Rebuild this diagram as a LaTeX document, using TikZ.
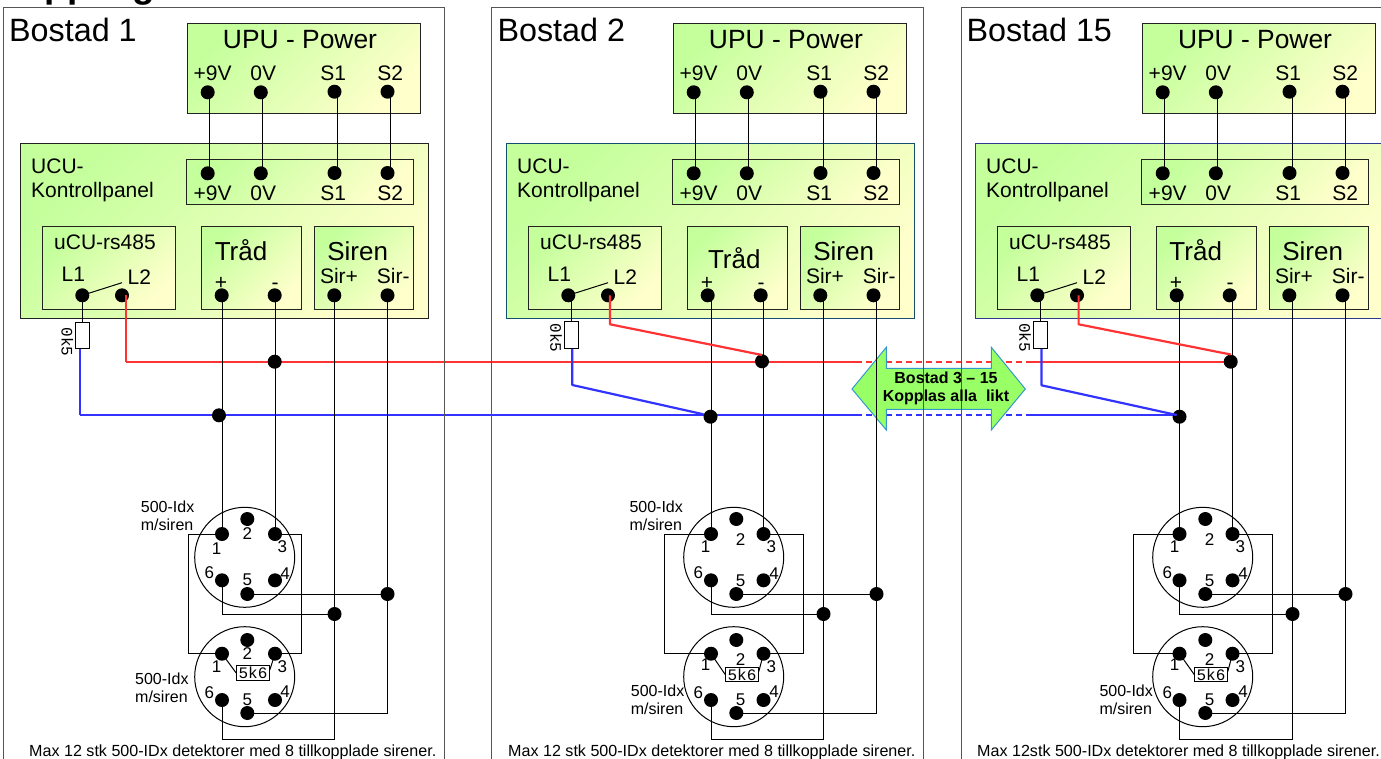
\documentclass[tikz,border=0pt]{standalone}
\usepackage{fontspec}
\setmainfont{Liberation Sans}
\newfontfamily\lmono{Liberation Mono}
\pgfdeclarelayer{bg}
\pgfsetlayers{bg,main}
\definecolor{gA}{HTML}{C4FF9C}
\definecolor{gB}{HTML}{FFFFCC}
\definecolor{redw}{HTML}{FF3333}
\definecolor{bluew}{HTML}{3333FF}
\definecolor{arrfill}{HTML}{99FF66}
\definecolor{arrline}{HTML}{3399CC}
\definecolor{frameC}{HTML}{555555}
\definecolor{navyA}{HTML}{14506E}
\definecolor{navyB}{HTML}{2E3A90}
\definecolor{boxC}{HTML}{222222}
\newcommand\fsz[1]{\fontsize{#1}{#1}\selectfont}
\tikzset{
  pad/.style={circle,fill=black,draw=none,minimum size=14pt,inner sep=0pt},
  wire/.style={draw=black,line width=1pt},
  rw/.style={draw=redw,line width=2.2pt,line join=round},
  bw/.style={draw=bluew,line width=2.2pt,line join=round},
  grad/.style={draw=#1,line width=1pt,top color=gA,bottom color=gB,shading angle=45},
  framest/.style={draw=frameC,line width=1pt},
  lbl/.style={anchor=base,inner sep=0pt,text=black},
  lbll/.style={anchor=base west,inner sep=0pt,text=black},
  num/.style={inner sep=0pt,text=black,font=\fsz{17}},
  ring/.style={circle,draw=black,line width=1pt,minimum size=100pt,inner sep=0pt},
  resv/.style={rectangle,draw=black,line width=1pt,fill=white,minimum width=13.6pt,minimum height=26.6pt,inner sep=0pt},
  resh/.style={rectangle,draw=black,line width=1pt,fill=white,minimum width=32.6pt,minimum height=14.5pt,inner sep=0pt,font=\lmono\fsz{16}},
}
% #1 prefix, #2 x offset, #3 title, #4 outer border colour
\newcommand\UnitUpper[4]{
  \draw[grad=boxC] (#2+187.7,23) rectangle (#2+420.7,113.5);
  \draw[grad=#4] (#2+20,143.7) rectangle (#2+428.3,318);
  \draw[grad=boxC] (#2+186,159) rectangle (#2+413.3,204.3);
  \draw[grad=boxC] (#2+42.3,226.7) rectangle (#2+175.3,309.3);
  \draw[grad=boxC] (#2+201.3,226.7) rectangle (#2+301.3,309.3);
  \draw[grad=boxC] (#2+314.3,226.7) rectangle (#2+413.7,309.3);
  \node[lbll,font=\fsz{32.3}] (#1title) at (#2+\TitX,41.7) {#3};
  \node[lbl,font=\fsz{26.4}] (#1upu) at (#2+300,48.7) {UPU - Power};
  \node[lbll,font=\fsz{21}] (#1ucuA) at (#2+31,173.3) {UCU-};
  \node[lbll,font=\fsz{21}] (#1ucuB) at (#2+31,197.3) {Kontrollpanel};
  \node[lbl,font=\fsz{21}] (#1rs) at (#2+105,249) {uCU-rs485};
  \node[lbl,font=\fsz{26}] (#1trad) at (#2+\TrX,\TrY) {Tråd};
  \node[lbl,font=\fsz{26}] (#1siren) at (#2+357.7,260) {Siren};
  \node[lbl,font=\fsz{21}] (#1tA) at (#2+212.7,80.7) {+9V};
  \node[lbl,font=\fsz{21}] (#1tB) at (#2+263.3,80.7) {0V};
  \node[lbl,font=\fsz{21}] (#1tC) at (#2+333.3,80.7) {S1};
  \node[lbl,font=\fsz{21}] (#1tD) at (#2+390.3,80.7) {S2};
  \node[lbl,font=\fsz{21}] (#1uA) at (#2+212.7,200) {+9V};
  \node[lbl,font=\fsz{21}] (#1uB) at (#2+263.3,200) {0V};
  \node[lbl,font=\fsz{21}] (#1uC) at (#2+333.3,200) {S1};
  \node[lbl,font=\fsz{21}] (#1uD) at (#2+390.3,200) {S2};
  \node[lbl,font=\fsz{21}] (#1tL1) at (#2+73.3,281.7) {L1};
  \node[lbl,font=\fsz{21}] (#1tL2) at (#2+139.3,284) {L2};
  \node[lbl,font=\fsz{21}] (#1tp) at (#2+221,289) {+};
  \node[lbl,font=\fsz{21}] (#1tm) at (#2+275,289) {-};
  \node[lbl,font=\fsz{21}] (#1tsp) at (#2+339,283.5) {Sir+};
  \node[lbl,font=\fsz{21}] (#1tsm) at (#2+393.3,283.5) {Sir-};
  \node[pad] (#1a) at (#2+207.7,92.3) {};
  \node[pad] (#1b) at (#2+260.8,92.3) {};
  \node[pad] (#1c) at (#2+334.5,91.7) {};
  \node[pad] (#1d) at (#2+387.5,91.7) {};
  \node[pad] (#1e) at (#2+207.7,173.3) {};
  \node[pad] (#1f) at (#2+260.8,173.3) {};
  \node[pad] (#1g) at (#2+334.5,173) {};
  \node[pad] (#1h) at (#2+387.5,173) {};
  \draw[wire] ([xshift=1.3pt]#1a.center) -- ([xshift=1.3pt]#1e.center);
  \draw[wire] ([xshift=1.2pt]#1b.center) -- ([xshift=1.2pt]#1f.center);
  \draw[wire] ([xshift=3pt]#1c.center) -- ([xshift=3pt]#1g.center);
  \draw[wire] ([xshift=3pt]#1d.center) -- ([xshift=3pt]#1h.center);
  \node[pad] (#1L1) at (#2+82.3,295.3) {};
  \node[pad] (#1L2) at (#2+122,295.3) {};
  \node[pad] (#1plus) at (#2+221.7,295.3) {};
  \node[pad] (#1minus) at (#2+274.7,295.3) {};
  \node[pad] (#1sp) at (#2+334.3,295.3) {};
  \node[pad] (#1sm) at (#2+387.5,295.3) {};
  \coordinate (#1tick) at (#2+122,282.7);
  \draw[wire] (#1L1.center) -- (#1tick);
}
% #1 prefix, #2 x offset
\newcommand\UnitLower[2]{
  \node[ring] (#1ringA) at (#2+244.7,557.3) {};
  \node[ring] (#1ringB) at (#2+244.7,676.7) {};
  \node[pad] (#1p1) at (\PA,534) {};
  \node[pad] (#1p2) at (#2+247.3,519) {};
  \node[pad] (#1p3) at (\PB,534) {};
  \node[pad] (#1p4) at (\PB,580.3) {};
  \node[pad] (#1p5) at (#2+247.3,594) {};
  \node[pad] (#1p6) at (\PA,580.3) {};
  \node[pad] (#1q1) at (\PA,653.7) {};
  \node[pad] (#1q2) at (#2+247.3,640) {};
  \node[pad] (#1q3) at (\PB,653.7) {};
  \node[pad] (#1q4) at (\PB,700) {};
  \node[pad] (#1q5) at (#2+247.3,713) {};
  \node[pad] (#1q6) at (\PA,700) {};
  \node[pad] (#1j1) at (#2+334.5,614) {};
  \node[pad] (#1j2) at (#2+387.5,594) {};
  \node[resh] (#1rr) at (#2+253,\RBy) {5k6};
  \draw[wire] (#1p1 |- #1plus) -- (#1p1.center);
  \draw[wire] (#1p3 |- #1minus) -- (#1p3.center);
  \draw[wire] (#1j1 |- #1sp) -- (#1j1.center);
  \draw[wire] (#1j2 |- #1sm) -- (#1j2.center);
  \coordinate (#1lL) at (\LoopL,600);
  \coordinate (#1lR) at (\LoopR,600);
  \coordinate (#1bot) at (#2+334.5,739.7);
  \draw[wire] (#1p1.center) -- (#1p1 -| #1lL) -- (#1q1 -| #1lL) -- (#1q1.center);
  \draw[wire] (#1p3.center) -- (#1p3 -| #1lR) -- (#1q3 -| #1lR) -- (#1q3.center);
  \draw[wire] (#1p6.center) |- (#1j1.center);
  \draw[wire] (#1p5.center) -- (#1j2.center);
  \draw[wire] (#1q6.center) |- (#1bot) -- (#1j1.center);
  \draw[wire] (#1q5.center) -| (#1j2.center);
  \draw[wire] (#1q1.center) -- (#1rr.west);
  \draw[wire] (#1q3.center) -- ([yshift=3pt]#1rr.east);
  \node[num] (#1nA) at (#2+216.7,\OneY) {1};
  \node[num] (#1nB) at (#2+247.3+\TwoDx,\TwoY) {2};
  \node[num] (#1nC) at (#2+282.3,546.7) {3};
  \node[num] (#1nD) at (#2+285,574) {4};
  \node[num] (#1nE) at (#2+247.3+\TwoDx,\FiveY) {5};
  \node[num] (#1nF) at (#2+209.3,572.7) {6};
  \node[num] (#1mA) at (#2+216.7,\OneYb) {1};
  \node[num] (#1mB) at (#2+247.3+\TwoDx,\TwoYb) {2};
  \node[num] (#1mC) at (#2+282.3,666.5) {3};
  \node[num] (#1mD) at (#2+285,692) {4};
  \node[num] (#1mE) at (#2+247.3+\TwoDx,699.3) {5};
  \node[num] (#1mF) at (#2+209.3,692.5) {6};
}
% #1 prefix, #2 label x, #3 first baseline
\newcommand\IdxLabel[3]{
  \node[lbll,font=\fsz{16}] (#1A) at (#2,#3) {500-Idx};
  \node[lbll,font=\fsz{16}] (#1B) at (#2,#3+18) {m/siren};
}
\begin{document}
\begin{tikzpicture}[x=1pt,y=-1pt]
\useasboundingbox (0,0) rectangle (1381,758);
\begin{pgfonlayer}{bg}
  \fill[white] (0,0) rectangle (1381,758);
\end{pgfonlayer}
\node[anchor=base west,inner sep=0pt,font=\fsz{37}\bfseries] (head) at (-5,-3) {Koppling};
% frames
\draw[framest] (3,7.6) rectangle (444,800);
\draw[framest] (491.7,7.6) rectangle (923,800);
\draw[framest] (961,7.6) rectangle (1500,800);
% unit 1
\def\TitX{9}\def\TrX{241}\def\TrY{260}
\UnitUpper{u}{0}{Bostad 1}{boxC}
\def\PA{222}\def\PB{275}\def\LoopL{188.7}\def\LoopR{301.3}\def\RBy{673}
\def\TwoDx{0}\def\TwoY{533.3}\def\TwoYb{654}\def\FiveY{579.3}\def\OneY{548.3}\def\OneYb{666.7}
\UnitLower{u}{0}
% unit 2
\def\TitX{11.3}\def\TrX{248.3}\def\TrY{268.3}
\UnitUpper{v}{486}{Bostad 2}{navyA}
\def\PA{711}\def\PB{763.5}\def\LoopL{664.3}\def\LoopR{803.7}\def\RBy{674.5}
\def\TwoDx{4.2}\def\TwoY{539.3}\def\TwoYb{659.3}\def\FiveY{580.7}\def\OneY{546.7}\def\OneYb{665}
\UnitLower{v}{489}
% unit 3
\def\TitX{11.3}\def\TrX{240.7}\def\TrY{260}
\UnitUpper{w}{955}{Bostad 15}{navyB}
\def\PA{1179.5}\def\PB{1232.5}\def\LoopL{1133}\def\LoopR{1272.3}
\UnitLower{w}{958}
% bus junctions
\node[pad] (uJr) at (274.7,361.7) {};
\node[pad] (uJb) at (219,415.3) {};
\node[pad] (vJr) at (762,361.3) {};
\node[pad] (vJb) at (710.5,416.7) {};
\node[pad] (wJr) at (1230.7,361.7) {};
\node[pad] (wJb) at (1179.5,416.7) {};
% series resistors
\node[resv] (uR) at (82.5,335.3) {};
\node[resv] (vR) at (571.5,335) {};
\node[resv] (wR) at (1040.5,335) {};
\node[inner sep=0pt,rotate=-90,font=\lmono\fsz{16},text=black] (uRt) at (67.3,342) {0k5};
\node[inner sep=0pt,rotate=-90,font=\lmono\fsz{16},text=black] (vRt) at (556,338) {0k5};
\node[inner sep=0pt,rotate=-90,font=\lmono\fsz{16},text=black] (wRt) at (1025,337.5) {0k5};
\draw[wire] ([xshift=0.2pt]uL1.center) -- (uR.north);
\draw[wire] ([xshift=3.2pt]vL1.center) -- ([xshift=3.2pt]vL1.center |- vR.north);
\draw[wire] ([xshift=3.2pt]wL1.center) -- ([xshift=3.2pt]wL1.center |- wR.north);
% bus coordinates
\coordinate (redK) at (126,362.3);
\coordinate (bluK) at (80.3,415.2);
\coordinate (vRk) at (610,324.3);
\coordinate (vRe) at (762,355);
\coordinate (vBk) at (572.3,385);
\coordinate (vBe) at (703.5,414.3);
\coordinate (wRk) at (1078.6,324.3);
\coordinate (wRe) at (1230.7,354.5);
\coordinate (wBk) at (1041.5,385.3);
\coordinate (wBe) at (1176.7,415);
% coloured drops on top of the boxes
\draw[rw] (redK |- uL2) -- (redK);
\draw[bw] (bluK |- uR.south) -- (bluK);
\draw[rw] (vRk |- vL2) -- (vRk) -- (vRe);
\draw[bw] (vBk |- vR.south) -- (vBk) -- (vBe);
\draw[rw] (wRk |- wL2) -- (wRk) -- (wRe);
\draw[bw] (wBk |- wR.south) -- (wBk) -- (wBe);
% long bus lines and the arrow lie underneath
\begin{pgfonlayer}{bg}
  \coordinate (rdA) at (856,362.3);
  \coordinate (rdB) at (1032,362.3);
  \coordinate (bdA) at (856,415.2);
  \coordinate (bdB) at (1032,415.2);
  \draw[rw] (redK) -- (rdA);
  \draw[rw,dash pattern=on 6pt off 4pt] (rdA) -- (rdB);
  \draw[rw] (rdB) -- (rdB -| wJr);
  \draw[bw] (bluK) -- (bdA);
  \draw[bw,dash pattern=on 6pt off 4pt] (bdA) -- (bdB);
  \draw[bw] (bdB) -- (bdB -| wJb);
  \draw[draw=arrline,fill=arrfill,line width=1pt,line join=miter]
    (852,389) -- (886.3,347.3) -- (886.3,368.3) -- (991.3,368.3) -- (991.3,347.3)
    -- (1025.3,389) -- (991.3,430) -- (991.3,409.3) -- (886.3,409.3) -- (886.3,430) -- cycle;
\end{pgfonlayer}
\node[align=center,inner sep=0pt,font=\fontsize{16}{17.8}\selectfont\bfseries,text=black] (arrtxt) at (946,388.5) {Bostad 3 – 15\\Kopplas alla\ \ likt};
% labels
\IdxLabel{lA}{140.7}{512}
\IdxLabel{lB}{135}{684}
\IdxLabel{lC}{629.3}{512}
\IdxLabel{lD}{630.7}{696.7}
\IdxLabel{lE}{1099.3}{696.7}
\node[lbll,font=\fsz{16.1}] (capA) at (29,756.7) {Max 12 stk 500-IDx detektorer med 8 tillkopplade sirener.};
\node[lbll,font=\fsz{16.1}] (capB) at (508,756.7) {Max 12 stk 500-IDx detektorer med 8 tillkopplade sirener.};
\node[lbll,font=\fsz{16.1}] (capC) at (977,756.7) {Max 12stk 500-IDx detektorer med 8 tillkopplade sirener.};
\end{tikzpicture}
\end{document}
